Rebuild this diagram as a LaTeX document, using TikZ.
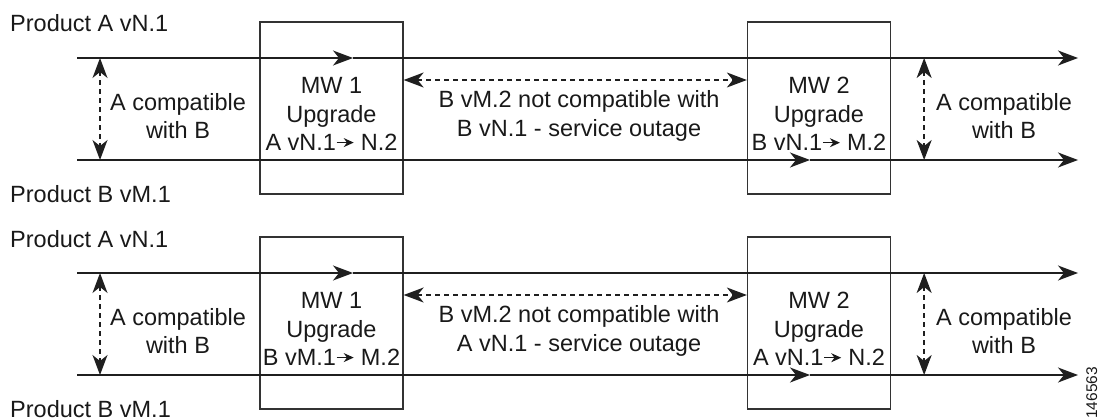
\documentclass[tikz,border=0pt]{standalone}
\usepackage{fontspec}
\setmainfont{Liberation Sans}
\usetikzlibrary{arrows.meta,calc}

% small arrow used inside the box texts
\newcommand{\uparr}{\tikz[baseline,x=1pt,y=1pt]\draw[line width=1.3pt,-{Stealth[length=10pt,width=9pt]}] (0,8)--(17,8);}

\begin{document}
\begin{tikzpicture}[x=1pt, y=-1pt,
  font=\fontsize{23.5}{28.5}\selectfont, >={Stealth[length=20pt,width=15pt,inset=6pt]},
  every node/.style={inner sep=0pt, text=black!90},
  flow/.style={line width=1.5pt, draw=black!88},
  compat/.style={flow, <->, dash pattern=on 5pt off 4pt},
  mwbox/.style={draw=black!80, line width=1.3pt, minimum width=143pt, minimum height=172pt},
  note/.style={align=center},
]
\useasboundingbox (0,0) rectangle (1101,420);

\foreach \p/\dy/\upa/\upb/\old in {top/0/{A vN.1\uparr\ N.2}/{B vN.1\uparr\ M.2}/{B vN.1},
                                   bot/215/{B vM.1\uparr\ M.2}/{A vN.1\uparr\ N.2}/{A vN.1}} {
\begin{scope}[yshift=-\dy pt]
  % product lines
  \node[anchor=base west] (pa-\p) at (10,32) {Product A vN.1};
  \node[anchor=base west] (pb-\p) at (10,202) {Product B vM.1};
  \coordinate (aL-\p) at (77,58);  \coordinate (am-\p) at (353,58);  \coordinate (aR-\p) at (1078,58);
  \coordinate (bL-\p) at (77,160); \coordinate (bm-\p) at (810,160); \coordinate (bR-\p) at (1078,160);

  % maintenance windows
  \node[mwbox] (mw1-\p) at (331.5,108) {};
  \node[mwbox] (mw2-\p) at (819,108) {};
  \node[note, yshift=-6pt] (mw1t-\p) at (mw1-\p) {MW 1\\Upgrade\\\upa};
  \node[note, yshift=-6pt] (mw2t-\p) at (mw2-\p) {MW 2\\Upgrade\\\upb};

  \draw[flow, ->] (aL-\p) -- (am-\p);
  \draw[flow, ->] (am-\p) -- (aR-\p);
  \draw[flow, ->] (bL-\p) -- (bm-\p);
  \draw[flow, ->] (bm-\p) -- (bR-\p);

  % compatibility notes
  \node[note] (cl-\p) at (178,116) {A compatible\\with B};
  \node[note] (cr-\p) at (1004,116) {A compatible\\with B};
  \node[note] (out-\p) at (579,116) {B vM.2 not compatible with\\\old\ - service outage};
  \draw[compat] ($(aL-\p)+(23,0)$) -- ($(bL-\p)+(23,0)$);
  \draw[compat] ($(mw2-\p.east |- aL-\p)+(33,0)$) -- ($(mw2-\p.east |- bL-\p)+(33,0)$);
  \draw[compat] ([yshift=28pt]mw1-\p.east) -- ([yshift=28pt]mw2-\p.west);
\end{scope}
}

\node[rotate=90, anchor=base west, font=\fontsize{15.5}{18}\selectfont] (fig) at (1097,419) {146563};
\end{tikzpicture}
\end{document}
